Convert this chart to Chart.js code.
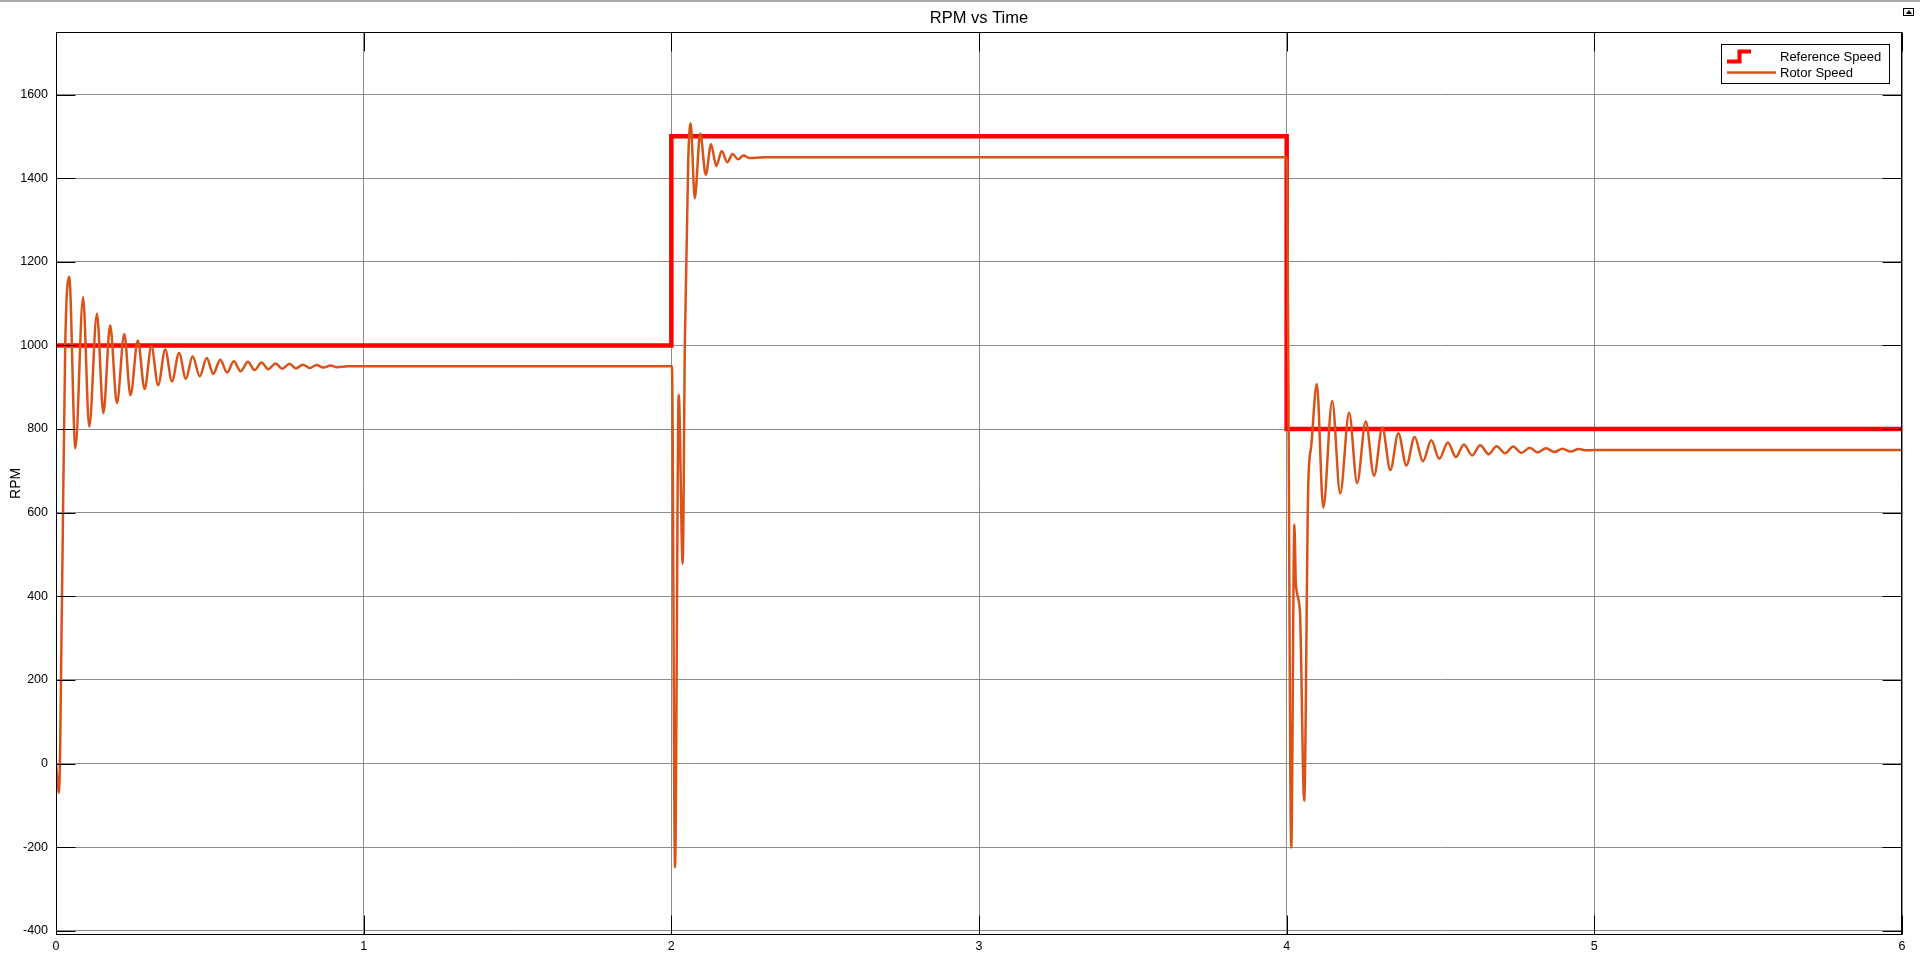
<!DOCTYPE html>
<html>
<head>
<meta charset="utf-8">
<title>RPM vs Time</title>
<script src="https://cdn.jsdelivr.net/npm/chart.js@4.4.1/dist/chart.umd.min.js"></script>
<style>
  html, body { margin: 0; padding: 0; background: #fff; }
  #wrap { position: relative; width: 1920px; height: 957px; }
  #box { position: absolute; left: 0; top: 0; width: 1920px; height: 957px; }
  #topline { position: absolute; left: 0; top: 0; width: 1920px; height: 2px; background: #a9a9a9; }
  #undock { position: absolute; left: 1903px; top: 8px; width: 9px; height: 6px; border: 1px solid #000; background: #f4f4f4; }
  #undock:after { content: ''; position: absolute; left: 2px; top: 1px; border-left: 3px solid transparent; border-right: 3px solid transparent; border-bottom: 4px solid #000; }
</style>
</head>
<body>
<div id="wrap">
  <div id="box"><canvas id="rpmChart"></canvas></div>
  <div id="topline"></div>
  <div id="undock"></div>
</div>
<script>
// axis ticks
const xTicks = [0, 1, 2, 3, 4, 5, 6];
const yTicks = [-400, -200, 0, 200, 400, 600, 800, 1000, 1200, 1400, 1600];

// reference speed (step signal)
const refTime = [0, 2, 4, 6];
const refRpm = [1000, 1500, 800, 800];

const rotorTime = [
    0, 0.0097, 0.02, 0.03, 0.043, 0.063, 0.088, 0.108, 0.133, 0.154,
    0.176, 0.198, 0.222, 0.242, 0.266, 0.288, 0.310, 0.332, 0.355, 0.377,
    0.400, 0.422, 0.444, 0.467, 0.490, 0.511, 0.534, 0.556, 0.578, 0.600,
    0.624, 0.645, 0.668, 0.690, 0.714, 0.735, 0.759, 0.780, 0.802, 0.825,
    0.847, 0.869, 0.892, 0.913, 0.95, 2.002,
    2.012, 2.024, 2.037, 2.044, 2.055, 2.063, 2.076, 2.094, 2.112, 2.129,
    2.146, 2.164, 2.182, 2.199, 2.217, 2.235, 2.253, 2.30, 4.0,
    4.015, 4.025, 4.030, 4.043, 4.057, 4.070, 4.080, 4.098, 4.119, 4.148,
    4.174, 4.203, 4.229, 4.257, 4.284, 4.311, 4.337, 4.363, 4.389, 4.416,
    4.443, 4.470, 4.496, 4.524, 4.550, 4.576, 4.603, 4.629, 4.657, 4.682,
    4.710, 4.736, 4.763, 4.790, 4.816, 4.843, 4.870, 4.896, 4.923, 4.949,
    4.975, 5.0, 6.0
];
const rotorRpm = [
    0, -70, 430, 1000, 1164, 754, 1115, 806, 1076, 838,
    1048, 862, 1027, 881, 1012, 896, 998, 905, 990, 914,
    982, 920, 974, 926, 970, 932, 966, 935, 962, 938,
    961, 941, 959, 943, 957, 944, 956, 945, 954, 946,
    953, 947, 952, 948, 950, 950,
    -248, 882, 478, 1008, 1445, 1531, 1352, 1507, 1408, 1481,
    1429, 1465, 1438, 1458, 1445, 1454, 1448, 1450, 1450,
    -201, 572, 429, 365, -89, 660, 760, 908, 612, 867,
    646, 839, 671, 818, 688, 803, 702, 790, 713, 781,
    723, 773, 729, 768, 733, 763, 737, 761, 740, 759,
    742, 758, 743, 755, 744, 754, 745, 753, 746, 752,
    749, 750, 750
];

const fontFamily = '"Liberation Sans", Arial, Helvetica, sans-serif';

// box, inward ticks (MATLAB style) and the boxed legend
const scopeFrame = {
    id: 'scopeFrame',
    afterDraw(chart) {
        const { ctx, chartArea: a, scales: { x, y } } = chart;
        ctx.save();
        ctx.strokeStyle = '#000';
        ctx.lineWidth = 1;
        const L = Math.round(a.left) + 0.5, R = Math.round(a.right) - 0.5;
        const T = Math.round(a.top) + 0.5, B = Math.round(a.bottom) - 0.5;
        ctx.strokeRect(L, T, R - L, B - T);

        const tick = 19;
        ctx.beginPath();
        yTicks.forEach(v => {
            const py = Math.round(y.getPixelForValue(v)) + 0.5;
            ctx.moveTo(L, py); ctx.lineTo(L + tick, py);
            ctx.moveTo(R, py); ctx.lineTo(R - tick, py);
        });
        xTicks.forEach(v => {
            const px = Math.round(x.getPixelForValue(v)) + 0.5;
            ctx.moveTo(px, B); ctx.lineTo(px, B - tick);
            ctx.moveTo(px, T); ctx.lineTo(px, T + tick);
        });
        ctx.stroke();

        // legend
        const bw = 168, bh = 39;
        const bx = Math.round(a.right - 13 - bw), by = Math.round(a.top + 12);
        ctx.fillStyle = '#fff';
        ctx.fillRect(bx, by, bw, bh);
        ctx.strokeRect(bx + 0.5, by + 0.5, bw, bh);
        ctx.font = '13px ' + fontFamily;
        ctx.textBaseline = 'middle';
        chart.data.datasets.forEach((ds, i) => {
            const cy = by + 12.5 + i * 16.5;
            ctx.strokeStyle = ds.borderColor;
            ctx.lineJoin = 'miter';
            ctx.beginPath();
            if (ds.stepped) {
                ctx.lineWidth = 4;
                ctx.moveTo(bx + 6, cy + 5);
                ctx.lineTo(bx + 18.5, cy + 5);
                ctx.lineTo(bx + 18.5, cy - 5);
                ctx.lineTo(bx + 30, cy - 5);
            } else {
                ctx.lineWidth = ds.borderWidth;
                ctx.moveTo(bx + 6, cy - 0.5);
                ctx.lineTo(bx + 55, cy - 0.5);
            }
            ctx.stroke();
            ctx.fillStyle = '#000';
            ctx.fillText(ds.label, bx + 59, cy + 0.5);
        });
        ctx.restore();
    }
};

const plainLabel = v => String(v);

const ctx = document.getElementById('rpmChart').getContext('2d');
const rpmChart = new Chart(ctx, {
    type: 'line',
    data: {
        datasets: [
            {
                label: 'Reference Speed',
                data: refTime.map((t, i) => ({ x: t, y: refRpm[i] })),
                borderColor: '#ff0000',
                borderWidth: 4.5,
                stepped: true,
                pointRadius: 0,
                fill: false,
                order: 1
            },
            {
                label: 'Rotor Speed',
                data: rotorTime.map((t, i) => ({ x: t, y: rotorRpm[i] })),
                borderColor: '#d95319',
                borderWidth: 2.5,
                cubicInterpolationMode: 'monotone',
                pointRadius: 0,
                fill: false,
                order: 0
            }
        ]
    },
    options: {
        responsive: true,
        maintainAspectRatio: false,
        animation: false,
        layout: { padding: { left: 0, right: 18, top: 0, bottom: 0 } },
        plugins: {
            legend: { display: false },
            tooltip: { enabled: false },
            title: {
                display: true,
                fullSize: false,
                text: 'RPM vs Time',
                color: '#000',
                font: { family: fontFamily, size: 16.5, weight: 'normal' },
                padding: { top: 9, bottom: 3 }
            }
        },
        scales: {
            x: {
                type: 'linear',
                min: 0,
                max: 6,
                afterBuildTicks: s => { s.ticks = xTicks.map(v => ({ value: v })); },
                afterFit: s => { s.height = 22; },
                ticks: { color: '#000', font: { family: fontFamily, size: 12.5 }, padding: 4, maxRotation: 0, callback: plainLabel },
                grid: { color: '#8c8c8c', drawTicks: false },
                border: { display: false }
            },
            y: {
                min: -410,
                max: 1750,
                afterBuildTicks: s => { s.ticks = yTicks.map(v => ({ value: v })); },
                afterFit: s => { s.width = 56; },
                ticks: { color: '#000', font: { family: fontFamily, size: 12.5 }, padding: 8, callback: plainLabel },
                grid: { color: '#8c8c8c', drawTicks: false },
                border: { display: false },
                title: {
                    display: true,
                    text: 'RPM',
                    color: '#000',
                    font: { family: fontFamily, size: 14 },
                    padding: { top: 8, bottom: 0 }
                }
            }
        }
    },
    plugins: [scopeFrame]
});
</script>
</body>
</html>
